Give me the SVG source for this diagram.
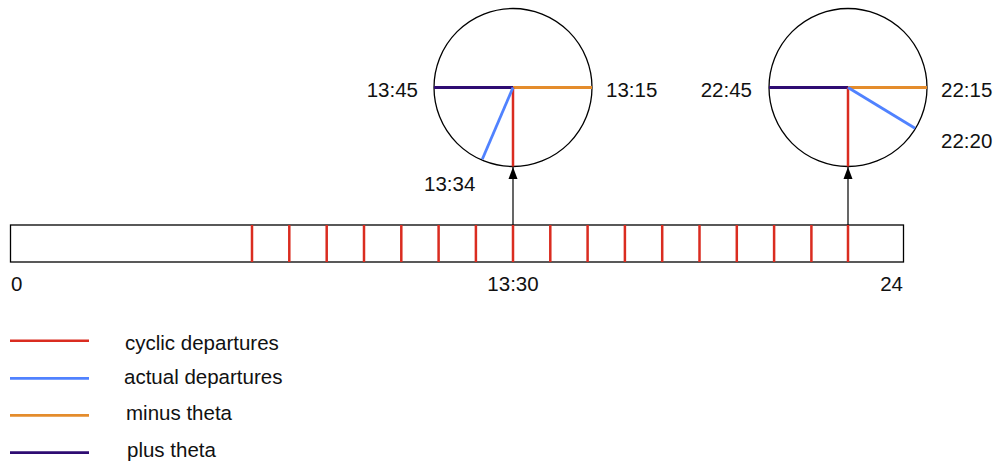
<svg xmlns="http://www.w3.org/2000/svg" width="995" height="464" viewBox="0 0 995 464">
<defs>
<marker id="arr" markerWidth="12" markerHeight="12" viewBox="0 0 12 12" refX="12" refY="6" orient="auto" markerUnits="userSpaceOnUse">
<path d="M0,1.5 L12,6 L0,10.5 Z" fill="#000"/>
</marker>
<style>
text{font-family:"Liberation Sans",Arial,sans-serif;font-size:20.5px;fill:#111}
.clock{fill:#fff;stroke:#000;stroke-width:1.3}
.red{stroke:#da2c20;stroke-width:2.5;fill:none}
.blue{stroke:#5082ff;stroke-width:2.8;fill:none}
.orange{stroke:#e48c2c;stroke-width:2.8;fill:none}
.purple{stroke:#2e0c72;stroke-width:2.8;fill:none}
.conn{stroke:#000;stroke-width:1.2;fill:none}
</style>
</defs>
<g id="timeline">
<rect x="10.5" y="225" width="893" height="37" fill="#fff" stroke="#000" stroke-width="1.3"/>
<g class="red">
<path d="M252,225V262M289.3,225V262M326.7,225V262M364,225V262M401.3,225V262M438.6,225V262M475.9,225V262M513,225V262M550.3,225V262M587.6,225V262M624.9,225V262M662.2,225V262M699.5,225V262M736.8,225V262M774.1,225V262M811.4,225V262M848,225V262"/>
</g>
<text x="11" y="291">0</text>
<text x="513" y="291" text-anchor="middle">13:30</text>
<text x="903" y="291" text-anchor="end">24</text>
</g>
<g id="clock1">
<circle class="clock" cx="513" cy="87.5" r="79"/>
<line class="purple" x1="434" y1="87.5" x2="513" y2="87.5"/>
<line class="orange" x1="513" y1="87.5" x2="592" y2="87.5"/>
<line class="red" x1="513" y1="87.5" x2="513" y2="166.5"/>
<line class="blue" x1="513" y1="87.5" x2="482.3" y2="159.3"/>
<text x="418" y="97" text-anchor="end">13:45</text>
<text x="606" y="97">13:15</text>
<text x="424" y="191">13:34</text>
</g>
<g id="clock2">
<circle class="clock" cx="848" cy="87.5" r="79"/>
<line class="purple" x1="769" y1="87.5" x2="848" y2="87.5"/>
<line class="orange" x1="848" y1="87.5" x2="927" y2="87.5"/>
<line class="red" x1="848" y1="87.5" x2="848" y2="166.5"/>
<line class="blue" x1="848" y1="87.5" x2="915" y2="128.3"/>
<text x="752" y="97" text-anchor="end">22:45</text>
<text x="941" y="97">22:15</text>
<text x="941" y="148">22:20</text>
</g>
<g id="connectors">
<line class="conn" x1="513" y1="225" x2="513" y2="167" marker-end="url(#arr)"/>
<line class="conn" x1="848" y1="225" x2="848" y2="167" marker-end="url(#arr)"/>
</g>
<g id="legend">
<line class="red" x1="10" y1="340.7" x2="89" y2="340.7"/>
<line class="blue" x1="10" y1="378.3" x2="89" y2="378.3"/>
<line class="orange" x1="10" y1="415.3" x2="89" y2="415.3"/>
<line class="purple" x1="10" y1="452.7" x2="89" y2="452.7"/>
<text x="125" y="350">cyclic departures</text>
<text x="124" y="383.5">actual departures</text>
<text x="126" y="420">minus theta</text>
<text x="127" y="457">plus theta</text>
</g>
</svg>
